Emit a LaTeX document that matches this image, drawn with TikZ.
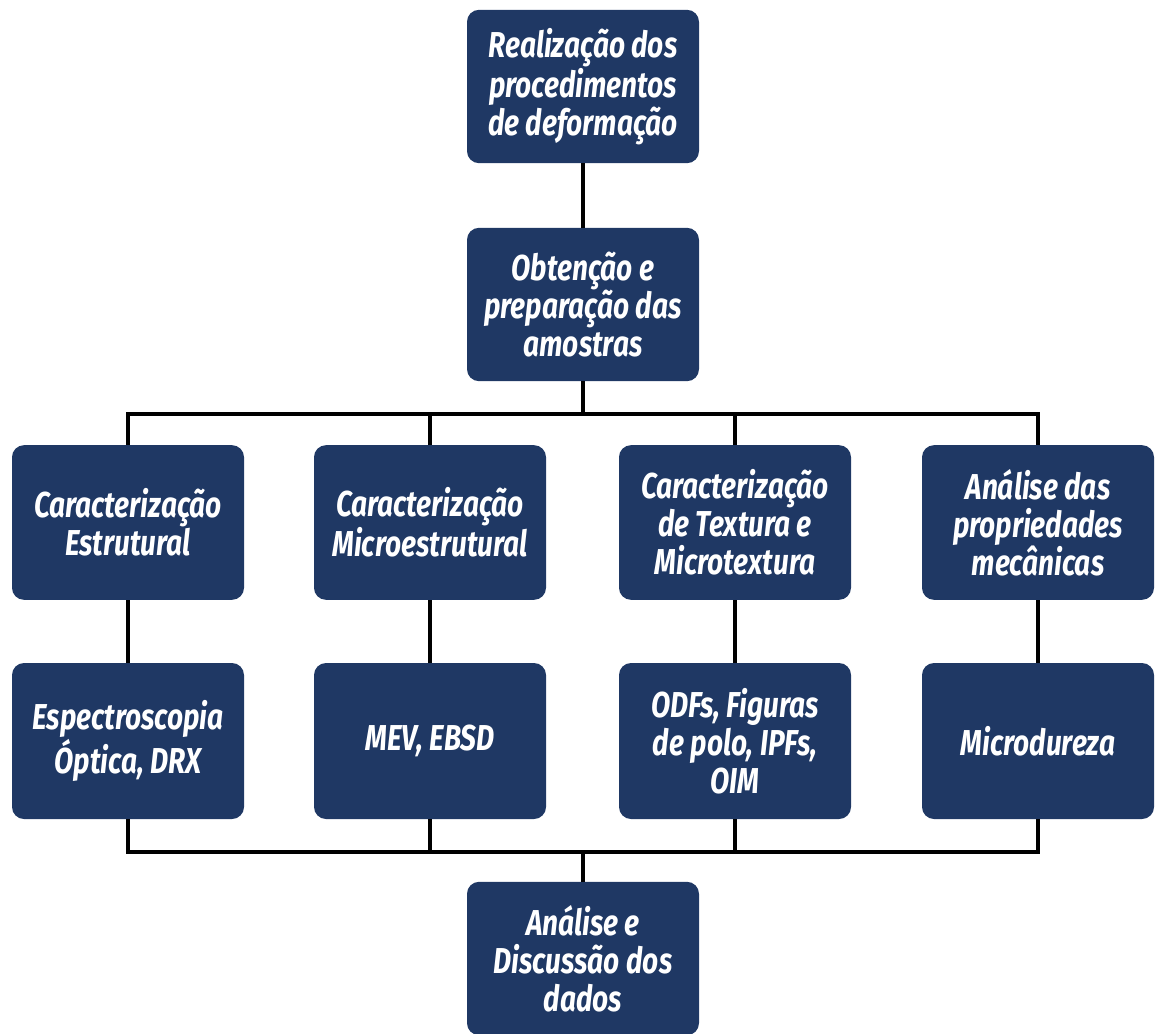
\documentclass[tikz,border=0pt]{standalone}
\usepackage{fontspec}
\setmainfont[FakeStretch=0.78]{Fira Sans}
\definecolor{caixa}{RGB}{31,56,100}
\begin{document}
\begin{tikzpicture}[x=0.75pt,y=-0.75pt,
    etapa/.style={fill=caixa,rounded corners=9pt,minimum width=174pt,minimum height=115pt,
        align=center,text=white,font=\bfseries\itshape\fontsize{27}{28.5}\selectfont,inner sep=0pt},
    liga/.style={line width=2.8pt}]
\useasboundingbox (0,0) rectangle (1156,1034);
% etapas iniciais
\node[etapa] (realiz) at (583,86.5) {Realização dos\\procedimentos\\de deformação};
\node[etapa] (obtenc) at (583,304.5) {Obtenção e\\preparação das\\amostras};
% caracterizacoes
\node[etapa,minimum height=116pt] (estrut) at (128,522.5) {Caracterização\\Estrutural};
\node[etapa,minimum height=116pt] (micro) at (430,522.5) {Caracterização\\Microestrutural};
\node[etapa,minimum height=116pt] (textur) at (735,522.5) {Caracterização\\de Textura e\\Microtextura};
\node[etapa,minimum height=116pt] (propr) at (1038,522.5) {Análise das\\propriedades\\mecânicas};
% tecnicas
\node[etapa,minimum height=117pt] (espec) at (128,741) {Espectroscopia\\Óptica, DRX};
\node[etapa,minimum height=117pt] (mev) at (430,741) {MEV, EBSD};
\node[etapa,minimum height=117pt] (odf) at (735,741) {ODFs, Figuras\\de polo, IPFs,\\OIM};
\node[etapa,minimum height=117pt] (dureza) at (1038,741) {Microdureza};
\node[etapa] (analise) at (583,958.5) {Análise e\\Discussão dos\\dados};
\coordinate (ramo) at (583,414);
\coordinate (junta) at (583,852);
% ligacoes
\draw[liga] (realiz) -- (obtenc);
\draw[liga] (obtenc) -- (ramo);
\draw[liga] (estrut.north) -- (estrut.north |- ramo) -- (propr.north |- ramo) -- (propr.north);
\draw[liga] (micro.north) -- (micro.north |- ramo);
\draw[liga] (textur.north) -- (textur.north |- ramo);
\foreach \a/\b in {estrut/espec,micro/mev,textur/odf,propr/dureza}
  \draw[liga] (\a) -- (\b);
\draw[liga] (espec.south) -- (espec.south |- junta) -- (dureza.south |- junta) -- (dureza.south);
\draw[liga] (mev.south) -- (mev.south |- junta);
\draw[liga] (odf.south) -- (odf.south |- junta);
\draw[liga] (junta) -- (analise);
\end{tikzpicture}
\end{document}
